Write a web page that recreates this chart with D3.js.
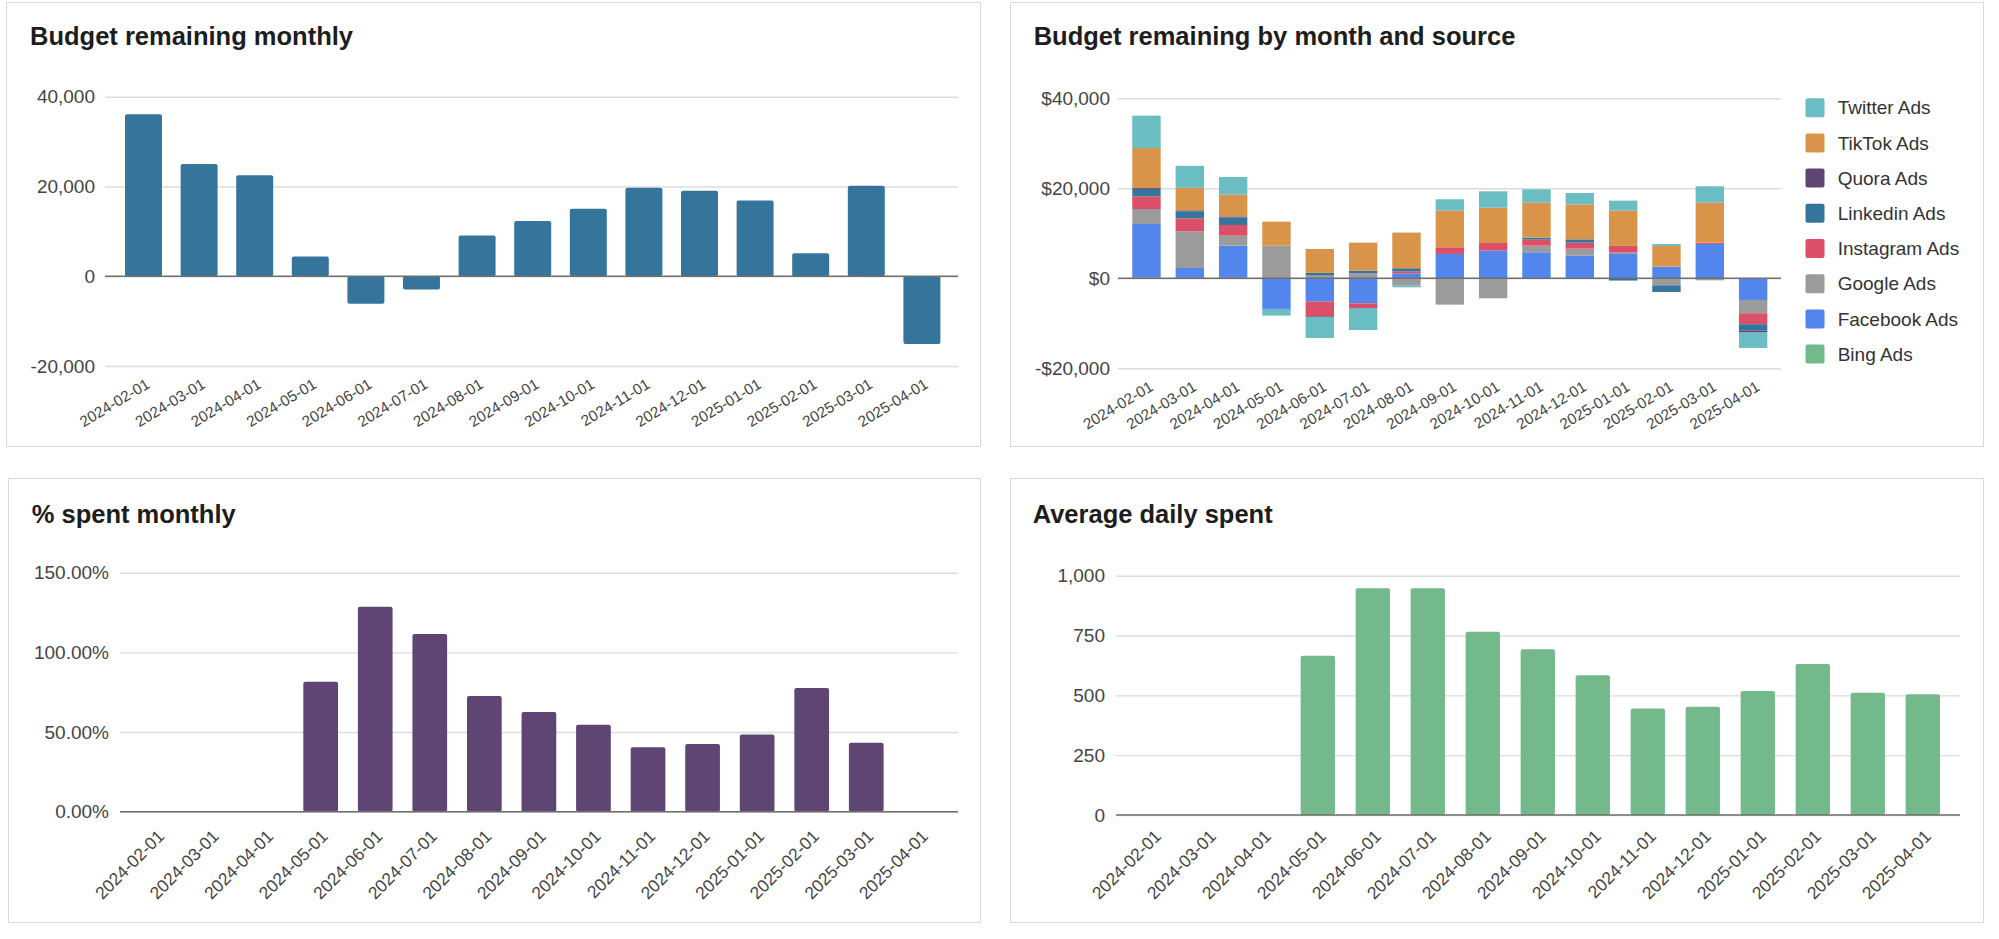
<!DOCTYPE html>
<html>
<head>
<meta charset="utf-8">
<script src="https://cdn.jsdelivr.net/npm/d3@7"></script>
<style>
  html, body { margin: 0; padding: 0; background: #ffffff; }
  svg { display: block; font-family: "Liberation Sans", Arial, sans-serif; }
</style>
</head>
<body>
<svg id="chart" width="1999" height="939"></svg>
<script>
// ---------------- DATA ----------------
const months = ["2024-02-01","2024-03-01","2024-04-01","2024-05-01","2024-06-01","2024-07-01","2024-08-01",
  "2024-09-01","2024-10-01","2024-11-01","2024-12-01","2025-01-01","2025-02-01","2025-03-01","2025-04-01"];

// Budget remaining monthly
const budgetRemaining = [36100, 25000, 22500, 4400, -6150, -2950, 9050, 12300, 15050, 19700, 19050, 16900, 5100, 20150, -15100];
const budgetTicks = [-20000, 0, 20000, 40000];
const budgetTickLabels = ["-20,000", "0", "20,000", "40,000"];

// Budget remaining by month and source
const sourceNames = ["Bing Ads","Facebook Ads","Google Ads","Instagram Ads","Linkedin Ads","Quora Ads","TikTok Ads","Twitter Ads"];
const sourceColors = ["#72b98c","#5286ec","#9b9b9b","#dc4f69","#35759b","#5e4573","#da944a","#6bbdc4"];
const bingAds      = [150, 100, 100, 0, 0, 0, 0, 0, 0, 0, 0, 0, 0, 0, 0];
const facebookAds  = [11920, 2200, 7160, -6810, -5180, -5560, 1110, 5410, 6150, 5780, 5040, 5410, 2590, 7630, -4810];
const googleAds    = [3330, 8150, 2220, 7260, 600, 1100, -1630, -5850, -4440, 1480, 1550, 300, -1560, -450, -2960];
const instagramAds = [2820, 2890, 2370, 0, -3260, -1040, 450, 1480, 1700, 1330, 1330, 1480, 0, 300, -2440];
const linkedinAds  = [1630, 1560, 1700, 0, 600, 600, 670, 0, 0, 450, 740, -500, -1480, 0, -1410];
const quoraAds     = [200, 200, 200, 0, -150, 0, 0, 0, 0, 0, 0, 0, 0, 0, -440];
const tiktokAds    = [8900, 5000, 4830, 5330, 5320, 6220, 7930, 8150, 7850, 7770, 7770, 7850, 4600, 8890, 0];
const twitterAds   = [7190, 4890, 3930, -1480, -4670, -4890, -370, 2520, 3630, 2970, 2520, 2220, 440, 3630, -3410];
const sourceTicks = [-20000, 0, 20000, 40000];
const sourceTickLabels = ["-$20,000", "$0", "$20,000", "$40,000"];

// % spent monthly
const pctSpent = [0, 0, 0, 0.816, 1.286, 1.115, 0.726, 0.625, 0.546, 0.404, 0.425, 0.485, 0.776, 0.433, 0];
const pctTicks = [0, 0.5, 1, 1.5];
const pctTickLabels = ["0.00%", "50.00%", "100.00%", "150.00%"];

// Average daily spent
const avgDaily = [0, 0, 0, 666, 948, 948, 766, 693, 584, 445, 452, 518, 631, 511, 505];
const avgTicks = [0, 250, 500, 750, 1000];
const avgTickLabels = ["0", "250", "500", "750", "1,000"];

// ---------------- DRAWING ----------------
const svg = d3.select("#chart");
const GRID = "#dcdcdc", ZERO = "#6f6f6f", TXT = "#444444";

function drawFrame(box, title) {
  svg.append("rect")
    .attr("x", box.x + 0.5).attr("y", box.y + 0.5)
    .attr("width", box.w).attr("height", box.h)
    .attr("fill", "#fff").attr("stroke", "#d9d9d9").attr("stroke-width", 1);
  svg.append("text")
    .attr("x", box.titleX).attr("y", box.titleY)
    .attr("font-size", 25.5).attr("font-weight", "bold").attr("fill", "#1d1d1d")
    .text(title);
}

function drawAxes(p, y, x) {
  // y axis with gridlines
  const ya = svg.append("g").attr("transform", `translate(${p.gridX0},0)`)
    .call(d3.axisLeft(y).tickValues(p.ticks).tickFormat((d, i) => p.tickLabels[i])
      .tickSize(-(p.gridX1 - p.gridX0)).tickPadding(p.gridX0 - p.labelRight));
  ya.select(".domain").remove();
  ya.selectAll(".tick line").attr("stroke", GRID).attr("stroke-width", 1.4);
  ya.selectAll(".tick text").attr("font-size", 19).attr("fill", TXT)
    .attr("font-family", "Liberation Sans, Arial, sans-serif");

  // x axis labels (slanted)
  const xa = svg.append("g").attr("transform", `translate(0,${p.xLabelY})`)
    .call(d3.axisBottom(x).tickSize(0).tickPadding(0));
  xa.select(".domain").remove();
  xa.selectAll(".tick line").remove();
  xa.selectAll(".tick text")
    .attr("font-size", p.xFont).attr("fill", TXT)
    .attr("font-family", "Liberation Sans, Arial, sans-serif")
    .attr("x", 0).attr("y", 0).attr("dy", "0.35em")
    .attr("text-anchor", "end")
    .attr("transform", `translate(${p.xLabelDX},0) rotate(${-p.angle})`);
}

function drawZero(p, y) {
  svg.append("line")
    .attr("x1", p.gridX0).attr("x2", p.gridX1)
    .attr("y1", y(0)).attr("y2", y(0))
    .attr("stroke", ZERO).attr("stroke-width", 1.6);
}

function simpleBarPanel(p, values, color) {
  drawFrame(p.box, p.title);
  const x = d3.scaleBand().domain(months).range(p.band).paddingInner(p.padIn).paddingOuter(p.padIn / 2);
  const y = d3.scaleLinear().domain(p.domain).range(p.yRange);
  drawAxes(p, y, x);
  svg.append("g").selectAll("rect").data(months.map((m, i) => ({ m, v: values[i] })))
    .join("rect")
    .attr("x", d => x(d.m))
    .attr("width", x.bandwidth())
    .attr("y", d => y(Math.max(0, d.v)))
    .attr("height", d => Math.abs(y(d.v) - y(0)))
    .attr("rx", 2).attr("ry", 2)
    .attr("fill", color);
  drawZero(p, y);
}

// Panel 1: Budget remaining monthly
simpleBarPanel({
  box: { x: 6, y: 2, w: 974, h: 444, titleX: 30, titleY: 45 },
  title: "Budget remaining monthly",
  band: [115.7, 949.7], padIn: 0.335,
  domain: [-20000, 40000], yRange: [366, 96.7],
  ticks: budgetTicks, tickLabels: budgetTickLabels,
  gridX0: 105, gridX1: 958, labelRight: 95,
  xLabelY: 382.5, xLabelDX: 4.5, xFont: 15.3, angle: 31
}, budgetRemaining, "#35759b");

// Panel 2: Budget remaining by month and source (stacked, diverging)
(function () {
  const p = {
    box: { x: 1010, y: 2, w: 973, h: 444, titleX: 1033.7, titleY: 45 },
    title: "Budget remaining by month and source",
    band: [1124.8, 1774.8], padIn: 0.345,
    domain: [-20000, 40000], yRange: [368.3, 98.3],
    ticks: sourceTicks, tickLabels: sourceTickLabels,
    gridX0: 1118, gridX1: 1781, labelRight: 1110,
    xLabelY: 385, xLabelDX: 5, xFont: 15.3, angle: 31
  };
  drawFrame(p.box, p.title);
  const series = [bingAds, facebookAds, googleAds, instagramAds, linkedinAds, quoraAds, tiktokAds, twitterAds];
  const table = months.map((m, i) => {
    const row = { month: m };
    sourceNames.forEach((s, k) => row[s] = series[k][i]);
    return row;
  });
  const x = d3.scaleBand().domain(months).range(p.band).paddingInner(p.padIn).paddingOuter(p.padIn / 2);
  const y = d3.scaleLinear().domain(p.domain).range(p.yRange);
  const color = d3.scaleOrdinal().domain(sourceNames).range(sourceColors);
  drawAxes(p, y, x);
  const stacked = d3.stack().keys(sourceNames).offset(d3.stackOffsetDiverging)(table);
  svg.append("g").selectAll("g").data(stacked).join("g")
    .attr("fill", d => color(d.key))
    .selectAll("rect").data(d => d.filter(s => s[1] !== s[0])).join("rect")
    .attr("x", d => x(d.data.month))
    .attr("width", x.bandwidth())
    .attr("y", d => y(Math.max(d[0], d[1])))
    .attr("height", d => Math.abs(y(d[0]) - y(d[1])));
  drawZero(p, y);

  // legend (reverse order, as in reference)
  const legendItems = sourceNames.slice().reverse();
  const lg = svg.append("g");
  legendItems.forEach((name, i) => {
    const cy = 107.7 + i * 35.2;
    lg.append("rect").attr("x", 1805.5).attr("y", cy - 9.5).attr("width", 19).attr("height", 19)
      .attr("rx", 2).attr("fill", color(name));
    lg.append("text").attr("x", 1837.7).attr("y", cy).attr("dy", "0.35em")
      .attr("font-size", 19).attr("fill", "#333").text(name);
  });
})();

// Panel 3: % spent monthly
simpleBarPanel({
  box: { x: 8, y: 478, w: 972, h: 444, titleX: 31.7, titleY: 522.7 },
  title: "% spent monthly",
  band: [129.7, 948.1], padIn: 0.364,
  domain: [0, 1.5], yRange: [811.7, 572.7],
  ticks: pctTicks, tickLabels: pctTickLabels,
  gridX0: 120, gridX1: 958, labelRight: 109,
  xLabelY: 833, xLabelDX: 4, xFont: 17.4, angle: 45
}, pctSpent, "#5e4573");

// Panel 4: Average daily spent
simpleBarPanel({
  box: { x: 1010, y: 478, w: 973, h: 444, titleX: 1032.7, titleY: 522.7 },
  title: "Average daily spent",
  band: [1125.3, 1950.3], padIn: 0.376,
  domain: [0, 1000], yRange: [815, 575.7],
  ticks: avgTicks, tickLabels: avgTickLabels,
  gridX0: 1116, gridX1: 1960, labelRight: 1105,
  xLabelY: 833, xLabelDX: 5, xFont: 17.4, angle: 45
}, avgDaily, "#73b98c");
</script>
</body>
</html>
